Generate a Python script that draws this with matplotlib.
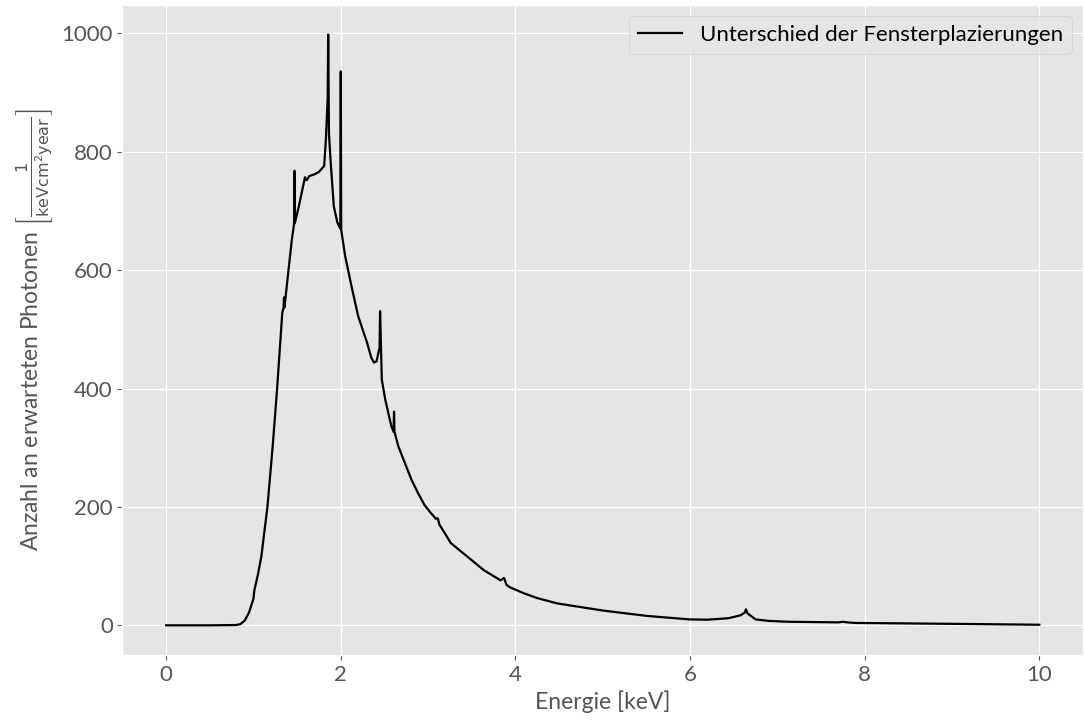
import numpy as np
import matplotlib
matplotlib.use("Agg")
import matplotlib.pyplot as plt

### Spectrum (energy in keV, counts)
energie = [0.0, 0.5, 0.8, 0.85, 0.9, 0.95, 1.0, 1.01, 1.05, 1.09, 1.16, 1.22,
           1.27, 1.33, 1.345, 1.35, 1.355, 1.39, 1.44, 1.465, 1.47, 1.475,
           1.52, 1.59, 1.61, 1.64, 1.7, 1.75, 1.81, 1.83, 1.85, 1.856, 1.865,
           1.882, 1.92, 1.96, 1.985, 1.995, 2.0, 2.005, 2.05, 2.13, 2.2, 2.3,
           2.35, 2.38, 2.41, 2.445, 2.45, 2.47, 2.51, 2.58, 2.605, 2.61, 2.615,
           2.66, 2.735, 2.81, 2.886, 2.96, 3.03, 3.09, 3.11, 3.13, 3.19, 3.26,
           3.45, 3.64, 3.83, 3.87, 3.9, 3.94, 4.1, 4.25, 4.48, 5.0, 5.5, 5.99,
           6.2, 6.44, 6.58, 6.63, 6.64, 6.66, 6.75, 6.9, 7.13, 7.7, 7.75, 7.8,
           7.89, 8.5, 9.0, 10.0]
photonen = [0, 0, 0.5, 2, 8, 22, 45, 59, 85, 116, 200, 302,
            398, 528, 537, 554, 537, 585, 652, 678, 768, 680,
            708, 757, 752, 759, 762, 766, 776, 822, 890, 998, 830,
            788, 708, 681, 673, 670, 936, 668, 624, 568, 522, 478,
            452, 444, 446, 470, 531, 415, 381, 336, 327, 361, 327,
            302, 274, 246, 223, 203, 190, 180, 181, 170, 156, 139,
            116, 93, 76, 80, 68, 64, 54, 46, 37, 25, 16, 10,
            9.5, 12, 17, 22, 27, 20, 10, 7.5, 6, 5, 6, 5,
            4, 3.2, 2.5, 1]

label_linie = 'Unterschied der Fensterplazierungen'

plt.style.use('ggplot')
plt.rcParams['font.family'] = ['Lato', 'DejaVu Sans']
plt.rcParams['mathtext.fontset'] = 'dejavusans'

fig, ax = plt.subplots(figsize=(10.84, 7.22), dpi=100)
fig.subplots_adjust(left=0.113, right=0.999, top=0.993, bottom=0.093)

ax.plot(energie, photonen, color='black', linewidth=1.6, label=label_linie)

ax.set_xlabel('Energie [keV]', fontsize=16.5)
ax.set_ylabel(r'Anzahl an erwarteten Photonen $\left[\frac{1}{\mathrm{keV cm^2 year}}\right]$',
              fontsize=16.5)
ax.tick_params(labelsize=16)
ax.legend(loc='upper right', fontsize=16)

plt.savefig('out.png', dpi=100)
